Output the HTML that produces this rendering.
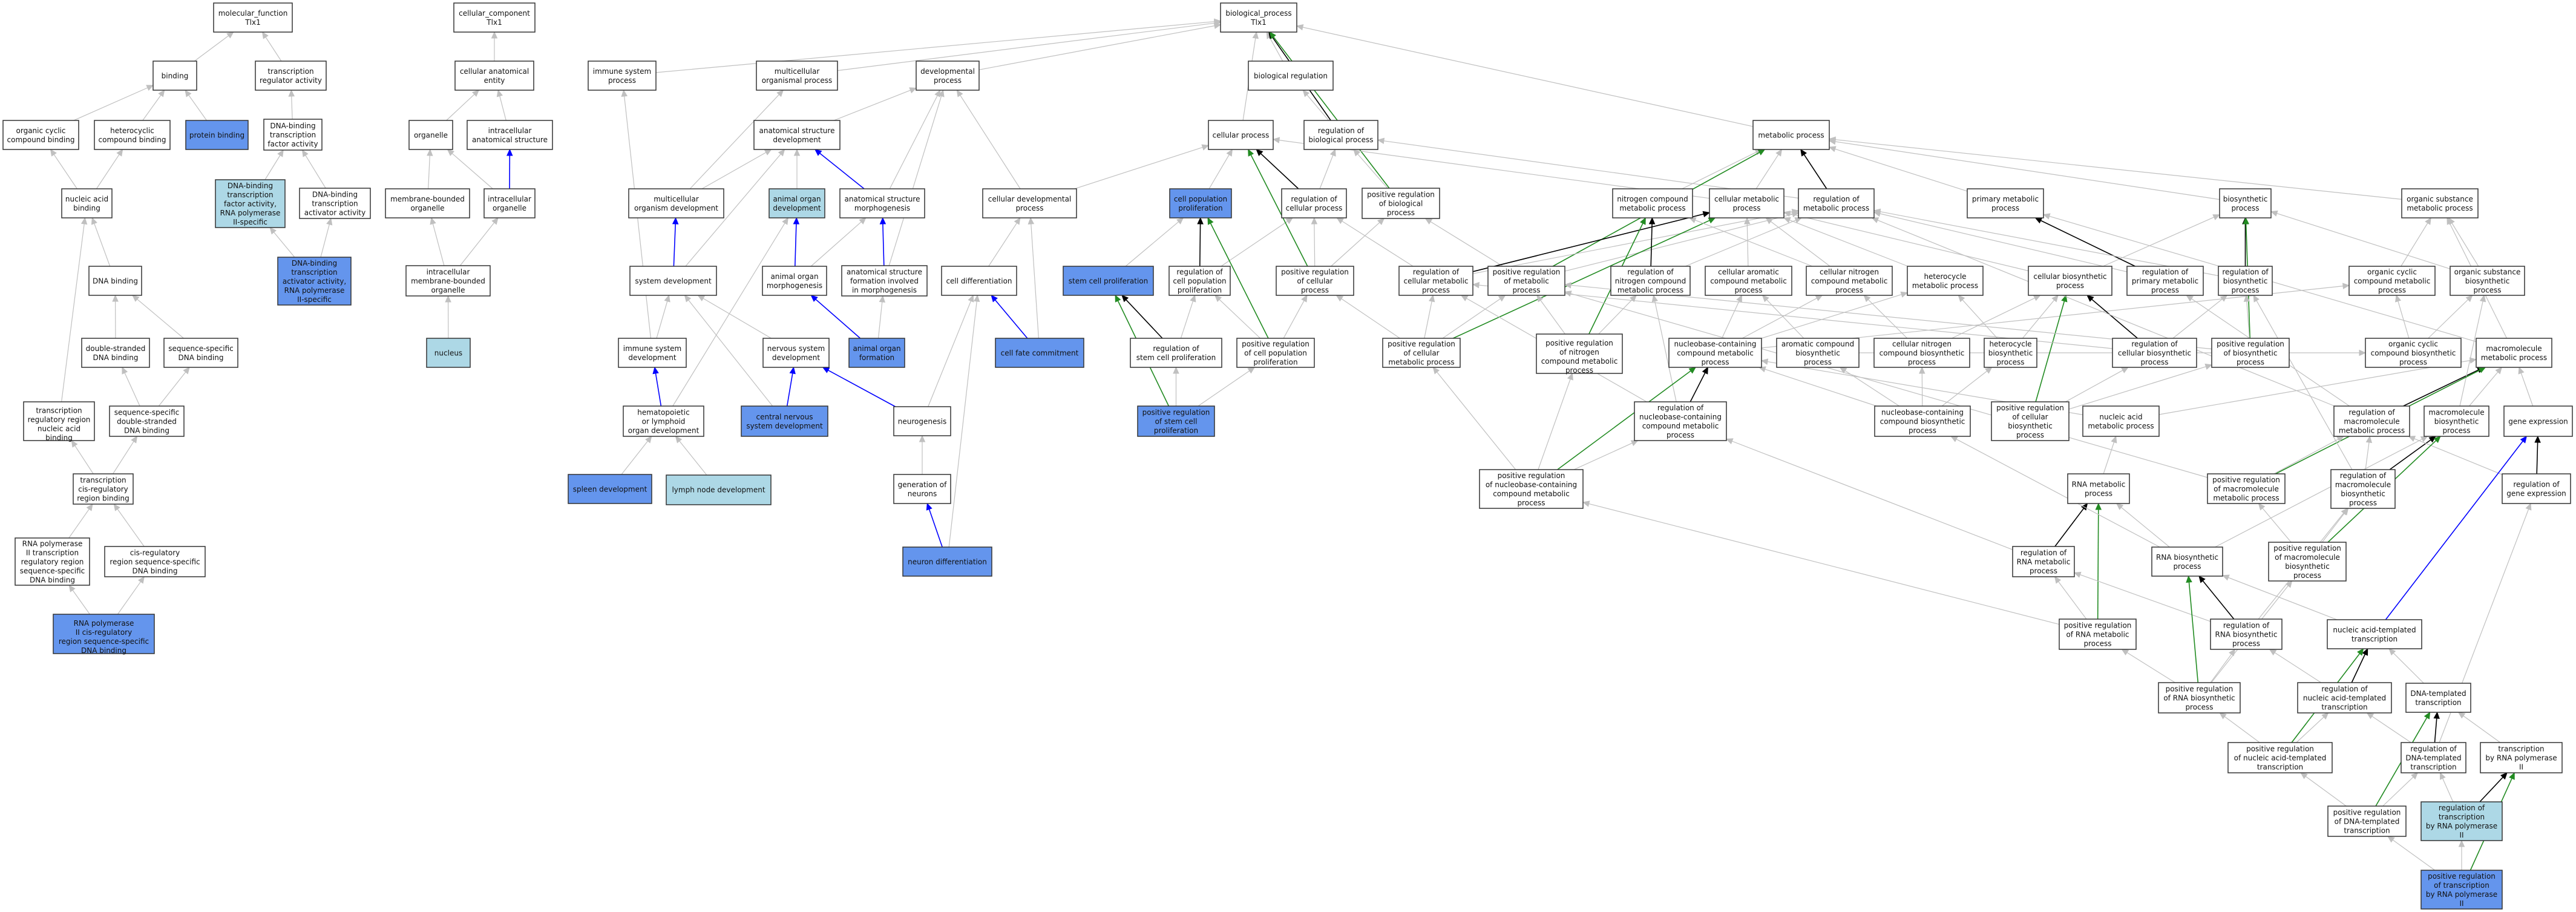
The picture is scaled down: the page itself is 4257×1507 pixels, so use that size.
<!DOCTYPE html>
<html><head><meta charset="utf-8">
<style>
html,body{margin:0;padding:0;background:#fff;}
svg{display:block;}
rect{stroke:#333;stroke-width:1.5;fill:#fff;}
rect.b{fill:#6495ED;}
rect.l{fill:#ADD8E6;}
text{font-family:"DejaVu Sans","Liberation Sans",sans-serif;font-size:12px;fill:#111;text-anchor:middle;}
</style></head>
<body>
<svg id="s" width="4257" height="1507" viewBox="0 0 4257 1507" xmlns="http://www.w3.org/2000/svg">
<g id="edges"></g>
<g id="nodes">
<rect id="mf" x="353" y="5" width="130" height="48"/><text x="418" y="26"><tspan x="418">molecular_function</tspan><tspan x="418" dy="15">Tlx1</tspan></text>
<rect id="cc" x="750" y="5" width="134" height="48"/><text x="817" y="26"><tspan x="817">cellular_component</tspan><tspan x="817" dy="15">Tlx1</tspan></text>
<rect id="bp" x="2017" y="5" width="126" height="48"/><text x="2080" y="26"><tspan x="2080">biological_process</tspan><tspan x="2080" dy="15">Tlx1</tspan></text>

<rect id="bind" x="253" y="101" width="72" height="48"/><text x="289" y="129.5">binding</text>
<rect id="tra" x="422" y="101" width="117" height="48"/><text x="480.5" y="122"><tspan x="480.5">transcription</tspan><tspan x="480.5" dy="15">regulator activity</tspan></text>
<rect id="cae" x="752" y="101" width="130" height="48"/><text x="817" y="122"><tspan x="817">cellular anatomical</tspan><tspan x="817" dy="15">entity</tspan></text>
<rect id="isp" x="972" y="101" width="112" height="48"/><text x="1028" y="122"><tspan x="1028">immune system</tspan><tspan x="1028" dy="15">process</tspan></text>
<rect id="mop" x="1250" y="101" width="134" height="48"/><text x="1317" y="122"><tspan x="1317">multicellular</tspan><tspan x="1317" dy="15">organismal process</tspan></text>
<rect id="dp" x="1514" y="101" width="104" height="48"/><text x="1566" y="122"><tspan x="1566">developmental</tspan><tspan x="1566" dy="15">process</tspan></text>
<rect id="br" x="2063" y="101" width="140" height="48"/><text x="2133" y="129.5">biological regulation</text>

<rect id="occb" x="5" y="199" width="125" height="48"/><text x="67.5" y="220"><tspan x="67.5">organic cyclic</tspan><tspan x="67.5" dy="15">compound binding</tspan></text>
<rect id="hcb" x="156" y="199" width="125" height="48"/><text x="218.5" y="220"><tspan x="218.5">heterocyclic</tspan><tspan x="218.5" dy="15">compound binding</tspan></text>
<rect id="pb" class="b" x="307" y="199" width="103" height="48"/><text x="358.5" y="227.5">protein binding</text>
<rect id="dtf" x="436" y="197" width="96" height="51"/><text x="484" y="212"><tspan x="484">DNA-binding</tspan><tspan x="484" dy="15">transcription</tspan><tspan x="484" dy="15">factor activity</tspan></text>
<rect id="org" x="676" y="199" width="72" height="48"/><text x="712" y="227.5">organelle</text>
<rect id="ias" x="772" y="199" width="141" height="48"/><text x="842.5" y="220"><tspan x="842.5">intracellular</tspan><tspan x="842.5" dy="15">anatomical structure</tspan></text>
<rect id="asd" x="1246" y="199" width="142" height="48"/><text x="1317" y="220"><tspan x="1317">anatomical structure</tspan><tspan x="1317" dy="15">development</tspan></text>
<rect id="cp" x="1997" y="199" width="107" height="48"/><text x="2050.5" y="227.5">cellular process</text>
<rect id="rbp" x="2155" y="199" width="122" height="48"/><text x="2216" y="220"><tspan x="2216">regulation of</tspan><tspan x="2216" dy="15">biological process</tspan></text>
<rect id="mp" x="2897" y="199" width="126" height="48"/><text x="2960" y="227.5">metabolic process</text>

<rect id="nab" x="102" y="312" width="83" height="48"/><text x="143.5" y="333"><tspan x="143.5">nucleic acid</tspan><tspan x="143.5" dy="15">binding</tspan></text>
<rect id="dtf2" class="l" x="356" y="297" width="115" height="79"/><text x="413.5" y="311"><tspan x="413.5">DNA-binding</tspan><tspan x="413.5" dy="15">transcription</tspan><tspan x="413.5" dy="15">factor activity,</tspan><tspan x="413.5" dy="15">RNA polymerase</tspan><tspan x="413.5" dy="15">II-specific</tspan></text>
<rect id="dta" x="495" y="311" width="117" height="50"/><text x="553.5" y="325.5"><tspan x="553.5">DNA-binding</tspan><tspan x="553.5" dy="15">transcription</tspan><tspan x="553.5" dy="15">activator activity</tspan></text>
<rect id="mbo" x="637" y="312" width="139" height="48"/><text x="706.5" y="333"><tspan x="706.5">membrane-bounded</tspan><tspan x="706.5" dy="15">organelle</tspan></text>
<rect id="io" x="800" y="312" width="84" height="48"/><text x="842" y="333"><tspan x="842">intracellular</tspan><tspan x="842" dy="15">organelle</tspan></text>
<rect id="mod" x="1039" y="312" width="157" height="48"/><text x="1117.5" y="333"><tspan x="1117.5">multicellular</tspan><tspan x="1117.5" dy="15">organism development</tspan></text>
<rect id="aod" class="l" x="1271" y="312" width="92" height="48"/><text x="1317" y="333"><tspan x="1317">animal organ</tspan><tspan x="1317" dy="15">development</tspan></text>
<rect id="asm" x="1388" y="312" width="140" height="48"/><text x="1458" y="333"><tspan x="1458">anatomical structure</tspan><tspan x="1458" dy="15">morphogenesis</tspan></text>
<rect id="cdp" x="1624" y="312" width="155" height="48"/><text x="1701.5" y="333"><tspan x="1701.5">cellular developmental</tspan><tspan x="1701.5" dy="15">process</tspan></text>
<rect id="cpp" class="b" x="1933" y="312" width="102" height="48"/><text x="1984" y="333"><tspan x="1984">cell population</tspan><tspan x="1984" dy="15">proliferation</tspan></text>
<rect id="rcp" x="2118" y="312" width="107" height="48"/><text x="2171.5" y="333"><tspan x="2171.5">regulation of</tspan><tspan x="2171.5" dy="15">cellular process</tspan></text>
<rect id="prbp" x="2251" y="311" width="128" height="50"/><text x="2315" y="325.5"><tspan x="2315">positive regulation</tspan><tspan x="2315" dy="15">of biological</tspan><tspan x="2315" dy="15">process</tspan></text>
<rect id="ncmp" x="2665" y="312" width="132" height="48"/><text x="2731" y="333"><tspan x="2731">nitrogen compound</tspan><tspan x="2731" dy="15">metabolic process</tspan></text>
<rect id="cmp" x="2825" y="312" width="123" height="48"/><text x="2886.5" y="333"><tspan x="2886.5">cellular metabolic</tspan><tspan x="2886.5" dy="15">process</tspan></text>
<rect id="rmp" x="2972" y="312" width="125" height="48"/><text x="3034.5" y="333"><tspan x="3034.5">regulation of</tspan><tspan x="3034.5" dy="15">metabolic process</tspan></text>
<rect id="pmp" x="3251" y="312" width="126" height="48"/><text x="3314" y="333"><tspan x="3314">primary metabolic</tspan><tspan x="3314" dy="15">process</tspan></text>
<rect id="bsp" x="3668" y="312" width="85" height="48"/><text x="3710.5" y="333"><tspan x="3710.5">biosynthetic</tspan><tspan x="3710.5" dy="15">process</tspan></text>
<rect id="osmp" x="3969" y="312" width="126" height="48"/><text x="4032" y="333"><tspan x="4032">organic substance</tspan><tspan x="4032" dy="15">metabolic process</tspan></text>

<rect id="dnab" x="147" y="440" width="87" height="48"/><text x="190.5" y="468.5">DNA binding</text>
<rect id="dta2" class="b" x="459" y="425" width="121" height="79"/><text x="519.5" y="439"><tspan x="519.5">DNA-binding</tspan><tspan x="519.5" dy="15">transcription</tspan><tspan x="519.5" dy="15">activator activity,</tspan><tspan x="519.5" dy="15">RNA polymerase</tspan><tspan x="519.5" dy="15">II-specific</tspan></text>
<rect id="imbo" x="671" y="439" width="139" height="50"/><text x="740.5" y="453.5"><tspan x="740.5">intracellular</tspan><tspan x="740.5" dy="15">membrane-bounded</tspan><tspan x="740.5" dy="15">organelle</tspan></text>
<rect id="sd" x="1041" y="440" width="143" height="48"/><text x="1112.5" y="468.5">system development</text>
<rect id="aom" x="1260" y="440" width="106" height="48"/><text x="1313" y="461"><tspan x="1313">animal organ</tspan><tspan x="1313" dy="15">morphogenesis</tspan></text>
<rect id="asfim" x="1391" y="439" width="141" height="50"/><text x="1461.5" y="453.5"><tspan x="1461.5">anatomical structure</tspan><tspan x="1461.5" dy="15">formation involved</tspan><tspan x="1461.5" dy="15">in morphogenesis</tspan></text>
<rect id="cd" x="1556" y="440" width="124" height="48"/><text x="1618" y="468.5">cell differentiation</text>
<rect id="scp" class="b" x="1757" y="440" width="149" height="48"/><text x="1831.5" y="468.5">stem cell proliferation</text>
<rect id="rcpp" x="1932" y="440" width="101" height="48"/><text x="1982.5" y="453.5"><tspan x="1982.5">regulation of</tspan><tspan x="1982.5" dy="15">cell population</tspan><tspan x="1982.5" dy="15">proliferation</tspan></text>
<rect id="prcp" x="2109" y="440" width="128" height="48"/><text x="2173" y="453.5"><tspan x="2173">positive regulation</tspan><tspan x="2173" dy="15">of cellular</tspan><tspan x="2173" dy="15">process</tspan></text>
<rect id="rcmp" x="2312" y="440" width="122" height="48"/><text x="2373" y="453.5"><tspan x="2373">regulation of</tspan><tspan x="2373" dy="15">cellular metabolic</tspan><tspan x="2373" dy="15">process</tspan></text>
<rect id="prmp" x="2459" y="440" width="127" height="48"/><text x="2522.5" y="453.5"><tspan x="2522.5">positive regulation</tspan><tspan x="2522.5" dy="15">of metabolic</tspan><tspan x="2522.5" dy="15">process</tspan></text>
<rect id="rncmp" x="2662" y="440" width="131" height="48"/><text x="2727.5" y="453.5"><tspan x="2727.5">regulation of</tspan><tspan x="2727.5" dy="15">nitrogen compound</tspan><tspan x="2727.5" dy="15">metabolic process</tspan></text>
<rect id="camp" x="2818" y="440" width="143" height="48"/><text x="2889.5" y="453.5"><tspan x="2889.5">cellular aromatic</tspan><tspan x="2889.5" dy="15">compound metabolic</tspan><tspan x="2889.5" dy="15">process</tspan></text>
<rect id="cncmp" x="2985" y="440" width="142" height="48"/><text x="3056" y="453.5"><tspan x="3056">cellular nitrogen</tspan><tspan x="3056" dy="15">compound metabolic</tspan><tspan x="3056" dy="15">process</tspan></text>
<rect id="hmp" x="3152" y="440" width="125" height="48"/><text x="3214.5" y="461"><tspan x="3214.5">heterocycle</tspan><tspan x="3214.5" dy="15">metabolic process</tspan></text>
<rect id="cbp" x="3352" y="440" width="138" height="48"/><text x="3421" y="461"><tspan x="3421">cellular biosynthetic</tspan><tspan x="3421" dy="15">process</tspan></text>
<rect id="rpmp" x="3515" y="440" width="126" height="48"/><text x="3578" y="453.5"><tspan x="3578">regulation of</tspan><tspan x="3578" dy="15">primary metabolic</tspan><tspan x="3578" dy="15">process</tspan></text>
<rect id="rbsp" x="3666" y="440" width="89" height="48"/><text x="3710.5" y="453.5"><tspan x="3710.5">regulation of</tspan><tspan x="3710.5" dy="15">biosynthetic</tspan><tspan x="3710.5" dy="15">process</tspan></text>
<rect id="occmp" x="3882" y="440" width="142" height="48"/><text x="3953" y="453.5"><tspan x="3953">organic cyclic</tspan><tspan x="3953" dy="15">compound metabolic</tspan><tspan x="3953" dy="15">process</tspan></text>
<rect id="osbp" x="4049" y="440" width="123" height="48"/><text x="4110.5" y="453.5"><tspan x="4110.5">organic substance</tspan><tspan x="4110.5" dy="15">biosynthetic</tspan><tspan x="4110.5" dy="15">process</tspan></text>

<rect id="dsdb" x="135" y="559" width="112" height="48"/><text x="191" y="580"><tspan x="191">double-stranded</tspan><tspan x="191" dy="15">DNA binding</tspan></text>
<rect id="ssdb" x="271" y="559" width="122" height="48"/><text x="332" y="580"><tspan x="332">sequence-specific</tspan><tspan x="332" dy="15">DNA binding</tspan></text>
<rect id="nuc" class="l" x="705" y="559" width="72" height="48"/><text x="741" y="587.5">nucleus</text>
<rect id="isd" x="1022" y="559" width="112" height="48"/><text x="1078" y="580"><tspan x="1078">immune system</tspan><tspan x="1078" dy="15">development</tspan></text>
<rect id="nsd" x="1261" y="559" width="109" height="48"/><text x="1315.5" y="580"><tspan x="1315.5">nervous system</tspan><tspan x="1315.5" dy="15">development</tspan></text>
<rect id="aof" class="b" x="1403" y="559" width="92" height="48"/><text x="1449" y="580"><tspan x="1449">animal organ</tspan><tspan x="1449" dy="15">formation</tspan></text>
<rect id="cfc" class="b" x="1645" y="559" width="146" height="48"/><text x="1718" y="587.5">cell fate commitment</text>
<rect id="rscp" x="1868" y="559" width="151" height="48"/><text x="1943.5" y="580"><tspan x="1943.5">regulation of</tspan><tspan x="1943.5" dy="15">stem cell proliferation</tspan></text>
<rect id="prcpp" x="2044" y="559" width="128" height="48"/><text x="2108" y="572.5"><tspan x="2108">positive regulation</tspan><tspan x="2108" dy="15">of cell population</tspan><tspan x="2108" dy="15">proliferation</tspan></text>
<rect id="prcmp" x="2285" y="559" width="128" height="48"/><text x="2349" y="572.5"><tspan x="2349">positive regulation</tspan><tspan x="2349" dy="15">of cellular</tspan><tspan x="2349" dy="15">metabolic process</tspan></text>
<rect id="prncmp" x="2539" y="552" width="142" height="65"/><text x="2610" y="571"><tspan x="2610">positive regulation</tspan><tspan x="2610" dy="15">of nitrogen</tspan><tspan x="2610" dy="15">compound metabolic</tspan><tspan x="2610" dy="15">process</tspan></text>
<rect id="nbcmp" x="2758" y="559" width="153" height="48"/><text x="2834.5" y="572.5"><tspan x="2834.5">nucleobase-containing</tspan><tspan x="2834.5" dy="15">compound metabolic</tspan><tspan x="2834.5" dy="15">process</tspan></text>
<rect id="acbp" x="2936" y="559" width="136" height="48"/><text x="3004" y="572.5"><tspan x="3004">aromatic compound</tspan><tspan x="3004" dy="15">biosynthetic</tspan><tspan x="3004" dy="15">process</tspan></text>
<rect id="cncbp" x="3097" y="559" width="158" height="48"/><text x="3176" y="572.5"><tspan x="3176">cellular nitrogen</tspan><tspan x="3176" dy="15">compound biosynthetic</tspan><tspan x="3176" dy="15">process</tspan></text>
<rect id="hbp" x="3279" y="559" width="87" height="48"/><text x="3322.5" y="572.5"><tspan x="3322.5">heterocycle</tspan><tspan x="3322.5" dy="15">biosynthetic</tspan><tspan x="3322.5" dy="15">process</tspan></text>
<rect id="rcbp" x="3491" y="559" width="139" height="48"/><text x="3560.5" y="572.5"><tspan x="3560.5">regulation of</tspan><tspan x="3560.5" dy="15">cellular biosynthetic</tspan><tspan x="3560.5" dy="15">process</tspan></text>
<rect id="prbsp" x="3655" y="559" width="128" height="48"/><text x="3719" y="572.5"><tspan x="3719">positive regulation</tspan><tspan x="3719" dy="15">of biosynthetic</tspan><tspan x="3719" dy="15">process</tspan></text>
<rect id="occbp" x="3909" y="559" width="158" height="48"/><text x="3988" y="572.5"><tspan x="3988">organic cyclic</tspan><tspan x="3988" dy="15">compound biosynthetic</tspan><tspan x="3988" dy="15">process</tspan></text>
<rect id="mmp" x="4092" y="559" width="125" height="48"/><text x="4154.5" y="580"><tspan x="4154.5">macromolecule</tspan><tspan x="4154.5" dy="15">metabolic process</tspan></text>

<rect id="trrnab" x="39" y="664" width="117" height="64"/><text x="97.5" y="682.5"><tspan x="97.5">transcription</tspan><tspan x="97.5" dy="15">regulatory region</tspan><tspan x="97.5" dy="15">nucleic acid</tspan><tspan x="97.5" dy="15">binding</tspan></text>
<rect id="ssdsdb" x="181" y="671" width="123" height="50"/><text x="242.5" y="685.5"><tspan x="242.5">sequence-specific</tspan><tspan x="242.5" dy="15">double-stranded</tspan><tspan x="242.5" dy="15">DNA binding</tspan></text>
<rect id="hlod" x="1030" y="671" width="133" height="50"/><text x="1096.5" y="685.5"><tspan x="1096.5">hematopoietic</tspan><tspan x="1096.5" dy="15">or lymphoid</tspan><tspan x="1096.5" dy="15">organ development</tspan></text>
<rect id="cnsd" class="b" x="1225" y="671" width="143" height="50"/><text x="1296.5" y="693"><tspan x="1296.5">central nervous</tspan><tspan x="1296.5" dy="15">system development</tspan></text>
<rect id="ng" x="1477" y="672" width="94" height="48"/><text x="1524" y="700.5">neurogenesis</text>
<rect id="prscp" class="b" x="1880" y="671" width="127" height="50"/><text x="1943.5" y="685.5"><tspan x="1943.5">positive regulation</tspan><tspan x="1943.5" dy="15">of stem cell</tspan><tspan x="1943.5" dy="15">proliferation</tspan></text>
<rect id="rnbcmp" x="2701" y="664" width="152" height="64"/><text x="2777" y="678"><tspan x="2777">regulation of</tspan><tspan x="2777" dy="15">nucleobase-containing</tspan><tspan x="2777" dy="15">compound metabolic</tspan><tspan x="2777" dy="15">process</tspan></text>
<rect id="nbcbp" x="3098" y="671" width="158" height="50"/><text x="3177" y="685.5"><tspan x="3177">nucleobase-containing</tspan><tspan x="3177" dy="15">compound biosynthetic</tspan><tspan x="3177" dy="15">process</tspan></text>
<rect id="prcbp" x="3291" y="664" width="128" height="64"/><text x="3355" y="678"><tspan x="3355">positive regulation</tspan><tspan x="3355" dy="15">of cellular</tspan><tspan x="3355" dy="15">biosynthetic</tspan><tspan x="3355" dy="15">process</tspan></text>
<rect id="namp" x="3442" y="671" width="126" height="50"/><text x="3505" y="693"><tspan x="3505">nucleic acid</tspan><tspan x="3505" dy="15">metabolic process</tspan></text>
<rect id="rmmp" x="3857" y="671" width="125" height="50"/><text x="3919.5" y="685.5"><tspan x="3919.5">regulation of</tspan><tspan x="3919.5" dy="15">macromolecule</tspan><tspan x="3919.5" dy="15">metabolic process</tspan></text>
<rect id="mbp" x="4006" y="671" width="107" height="50"/><text x="4059.5" y="685.5"><tspan x="4059.5">macromolecule</tspan><tspan x="4059.5" dy="15">biosynthetic</tspan><tspan x="4059.5" dy="15">process</tspan></text>
<rect id="ge" x="4138" y="671" width="113" height="50"/><text x="4194.5" y="700.5">gene expression</text>

<rect id="tcrb" x="121" y="783" width="99" height="50"/><text x="170.5" y="797.5"><tspan x="170.5">transcription</tspan><tspan x="170.5" dy="15">cis-regulatory</tspan><tspan x="170.5" dy="15">region binding</tspan></text>
<rect id="spl" class="b" x="939" y="784" width="138" height="48"/><text x="1008" y="812.5">spleen development</text>
<rect id="lnd" class="l" x="1101" y="785" width="173" height="49"/><text x="1187.5" y="813.5">lymph node development</text>
<rect id="gon" x="1477" y="784" width="94" height="48"/><text x="1524" y="805"><tspan x="1524">generation of</tspan><tspan x="1524" dy="15">neurons</tspan></text>
<rect id="prnbcmp" x="2445" y="776" width="171" height="64"/><text x="2530.5" y="790"><tspan x="2530.5">positive regulation</tspan><tspan x="2530.5" dy="15">of nucleobase-containing</tspan><tspan x="2530.5" dy="15">compound metabolic</tspan><tspan x="2530.5" dy="15">process</tspan></text>
<rect id="rnamp" x="3417" y="783" width="102" height="49"/><text x="3468" y="804.5"><tspan x="3468">RNA metabolic</tspan><tspan x="3468" dy="15">process</tspan></text>
<rect id="prmmp" x="3648" y="783" width="128" height="49"/><text x="3712" y="797"><tspan x="3712">positive regulation</tspan><tspan x="3712" dy="15">of macromolecule</tspan><tspan x="3712" dy="15">metabolic process</tspan></text>
<rect id="rmbp" x="3852" y="776" width="106" height="64"/><text x="3905" y="790"><tspan x="3905">regulation of</tspan><tspan x="3905" dy="15">macromolecule</tspan><tspan x="3905" dy="15">biosynthetic</tspan><tspan x="3905" dy="15">process</tspan></text>
<rect id="rge" x="4135" y="783" width="113" height="49"/><text x="4191.5" y="804.5"><tspan x="4191.5">regulation of</tspan><tspan x="4191.5" dy="15">gene expression</tspan></text>

<rect id="rpiitrr" class="" x="25" y="889" width="123" height="78"/><text x="86.5" y="902.5"><tspan x="86.5">RNA polymerase</tspan><tspan x="86.5" dy="15">II transcription</tspan><tspan x="86.5" dy="15">regulatory region</tspan><tspan x="86.5" dy="15">sequence-specific</tspan><tspan x="86.5" dy="15">DNA binding</tspan></text>
<rect id="crssdb" x="173" y="903" width="166" height="50"/><text x="256" y="917.5"><tspan x="256">cis-regulatory</tspan><tspan x="256" dy="15">region sequence-specific</tspan><tspan x="256" dy="15">DNA binding</tspan></text>
<rect id="nd" class="b" x="1492" y="904" width="147" height="48"/><text x="1565.5" y="932.5">neuron differentiation</text>
<rect id="rrnamp" x="3326" y="903" width="102" height="50"/><text x="3377" y="917.5"><tspan x="3377">regulation of</tspan><tspan x="3377" dy="15">RNA metabolic</tspan><tspan x="3377" dy="15">process</tspan></text>
<rect id="rnabp" x="3556" y="904" width="117" height="48"/><text x="3614.5" y="925"><tspan x="3614.5">RNA biosynthetic</tspan><tspan x="3614.5" dy="15">process</tspan></text>
<rect id="prmbp" x="3749" y="896" width="128" height="64"/><text x="3813" y="910"><tspan x="3813">positive regulation</tspan><tspan x="3813" dy="15">of macromolecule</tspan><tspan x="3813" dy="15">biosynthetic</tspan><tspan x="3813" dy="15">process</tspan></text>

<rect id="rpiicis" class="b" x="88" y="1015" width="167" height="65"/><text x="171.5" y="1034"><tspan x="171.5">RNA polymerase</tspan><tspan x="171.5" dy="15">II cis-regulatory</tspan><tspan x="171.5" dy="15">region sequence-specific</tspan><tspan x="171.5" dy="15">DNA binding</tspan></text>
<rect id="prrnamp" x="3403" y="1023" width="127" height="50"/><text x="3466.5" y="1037.5"><tspan x="3466.5">positive regulation</tspan><tspan x="3466.5" dy="15">of RNA metabolic</tspan><tspan x="3466.5" dy="15">process</tspan></text>
<rect id="rrnabp" x="3653" y="1023" width="118" height="50"/><text x="3712" y="1037.5"><tspan x="3712">regulation of</tspan><tspan x="3712" dy="15">RNA biosynthetic</tspan><tspan x="3712" dy="15">process</tspan></text>
<rect id="natt" x="3846" y="1024" width="156" height="48"/><text x="3924" y="1045"><tspan x="3924">nucleic acid-templated</tspan><tspan x="3924" dy="15">transcription</tspan></text>

<rect id="prrnabp" x="3567" y="1128" width="135" height="50"/><text x="3634.5" y="1142.5"><tspan x="3634.5">positive regulation</tspan><tspan x="3634.5" dy="15">of RNA biosynthetic</tspan><tspan x="3634.5" dy="15">process</tspan></text>
<rect id="rnatt" x="3797" y="1128" width="155" height="50"/><text x="3874.5" y="1142.5"><tspan x="3874.5">regulation of</tspan><tspan x="3874.5" dy="15">nucleic acid-templated</tspan><tspan x="3874.5" dy="15">transcription</tspan></text>
<rect id="dtt" x="3976" y="1129" width="107" height="48"/><text x="4029.5" y="1150"><tspan x="4029.5">DNA-templated</tspan><tspan x="4029.5" dy="15">transcription</tspan></text>

<rect id="prnatt" x="3682" y="1227" width="172" height="50"/><text x="3768" y="1241.5"><tspan x="3768">positive regulation</tspan><tspan x="3768" dy="15">of nucleic acid-templated</tspan><tspan x="3768" dy="15">transcription</tspan></text>
<rect id="rdtt" x="3968" y="1227" width="107" height="50"/><text x="4021.5" y="1241.5"><tspan x="4021.5">regulation of</tspan><tspan x="4021.5" dy="15">DNA-templated</tspan><tspan x="4021.5" dy="15">transcription</tspan></text>
<rect id="trp2" x="4099" y="1227" width="135" height="50"/><text x="4166.5" y="1241.5"><tspan x="4166.5">transcription</tspan><tspan x="4166.5" dy="15">by RNA polymerase</tspan><tspan x="4166.5" dy="15">II</tspan></text>

<rect id="prdtt" x="3847" y="1332" width="129" height="50"/><text x="3911.5" y="1346.5"><tspan x="3911.5">positive regulation</tspan><tspan x="3911.5" dy="15">of DNA-templated</tspan><tspan x="3911.5" dy="15">transcription</tspan></text>
<rect id="rtrp2" class="l" x="4001" y="1325" width="134" height="64"/><text x="4068" y="1339"><tspan x="4068">regulation of</tspan><tspan x="4068" dy="15">transcription</tspan><tspan x="4068" dy="15">by RNA polymerase</tspan><tspan x="4068" dy="15">II</tspan></text>
<rect id="prtrp2" class="b" x="4001" y="1438" width="134" height="64"/><text x="4068" y="1452"><tspan x="4068">positive regulation</tspan><tspan x="4068" dy="15">of transcription</tspan><tspan x="4068" dy="15">by RNA polymerase</tspan><tspan x="4068" dy="15">II</tspan></text>
</g>
</svg>
<script>
(function(){
var G='#c0c0c0',K='#000',B='#0000ff',N='#228b22';
var E=[
['bind','mf'],['tra','mf'],['occb','bind'],['hcb','bind'],['pb','bind'],['dtf','tra'],['nab','occb'],['nab','hcb'],
['dtf2','dtf'],['dta','dtf'],['dta2','dtf2'],['dta2','dta'],['dnab','nab'],['trrnab','nab'],['dsdb','dnab'],['ssdb','dnab'],
['ssdsdb','dsdb'],['ssdsdb','ssdb'],['tcrb','trrnab'],['tcrb','ssdsdb'],['rpiitrr','tcrb'],['crssdb','tcrb'],['rpiicis','rpiitrr'],['rpiicis','crssdb'],
['cae','cc'],['org','cae'],['ias','cae'],['mbo','org'],['io','org'],['io','ias',B],['imbo','mbo'],['imbo','io'],['nuc','imbo'],
['isp','bp'],['mop','bp'],['dp','bp'],['br','bp'],['cp','bp'],['rbp','br'],['rbp','bp',K],['prbp','bp',N],['mp','bp'],['prbp','rbp'],
['asd','dp'],['mod','mop'],['mod','asd'],['aod','asd'],['asm','asd',B],['asm','dp'],['cdp','dp'],['cdp','cp'],['sd','mod',B],['sd','asd'],
['aom','aod',B],['aom','asm'],['asfim','asm',B],['asfim','dp'],['cd','cdp'],['cpp','cp'],['scp','cpp'],['rcpp','cpp',K],['rcpp','rcp'],
['isd','sd'],['isd','isp'],['nsd','sd'],['aof','aom',B],['aof','asfim'],['cfc','cd',B],['cfc','cdp'],['rscp','scp',K],['rscp','rcpp'],
['prcpp','cpp',N],['prcpp','rcpp'],['prcpp','prcp'],['hlod','isd',B],['hlod','aod'],['cnsd','nsd',B],['cnsd','sd'],['ng','nsd',B],['ng','cd'],
['gon','ng'],['nd','gon',B],['nd','cd'],['prscp','scp',N],['prscp','rscp'],['prscp','prcpp'],['spl','hlod'],['lnd','hlod'],
['rcp','cp',K],['rcp','rbp'],['prcp','cp',N],['prcp','rcp'],['prcp','prbp'],
['cmp','mp'],['cmp','cp'],['rmp','mp',K],['rmp','rbp'],['ncmp','mp'],['pmp','mp'],['osmp','mp'],['bsp','mp'],['prmp','mp',N],['prmp','rmp'],['prmp','prbp'],
['rcmp','cmp',K],['rcmp','rcp'],['rcmp','rmp'],['prcmp','cmp',N],['prcmp','rcmp'],['prcmp','prmp'],['prcmp','prcp'],
['rncmp','ncmp',K],['rncmp','rmp'],['prncmp','ncmp',N],['prncmp','rncmp'],['prncmp','prmp'],
['camp','cmp'],['cncmp','cmp'],['cncmp','ncmp'],['hmp','cmp'],['cbp','cmp'],['cbp','bsp'],
['nbcmp','camp'],['nbcmp','cncmp'],['nbcmp','hmp'],['nbcmp','occmp'],['acbp','camp'],['acbp','occbp'],['cncbp','cncmp'],['cncbp','cbp'],['hbp','hmp'],['hbp','cbp'],
['rnbcmp','nbcmp',K],['rnbcmp','rcmp'],['rnbcmp','rncmp'],['prnbcmp','nbcmp',N],['prnbcmp','rnbcmp'],['prnbcmp','prcmp'],['prnbcmp','prncmp'],
['nbcbp','nbcmp'],['nbcbp','acbp'],['nbcbp','cncbp'],['nbcbp','hbp'],
['prcbp','cbp',N],['prcbp','rcbp'],['prcbp','prbsp'],['rpmp','pmp',K],['rpmp','rmp'],['rbsp','bsp',K],['rbsp','rmp'],
['prbsp','bsp',N],['prbsp','rbsp'],['prbsp','prmp'],['rcbp','cbp',K],['rcbp','rbsp'],['rcbp','rcmp'],
['occmp','osmp'],['osbp','osmp'],['osbp','bsp'],['occbp','occmp'],['occbp','osbp'],['mmp','osmp'],['mmp','pmp'],
['namp','nbcmp'],['namp','mmp'],['rmmp','mmp',K],['rmmp','rpmp'],['rmmp','rmp'],['mbp','mmp'],['mbp','osbp'],['ge','mmp'],
['rnamp','namp'],['rrnamp','rnamp',K],['rrnamp','rnbcmp'],['prrnamp','rnamp',N],['prrnamp','rrnamp'],['prrnamp','prnbcmp'],
['prmmp','mmp',N],['prmmp','rmmp'],['prmmp','prmp'],['rmbp','mbp',K],['rmbp','rmmp'],['rmbp','rbsp'],['rge','ge',K],['rge','rmmp'],
['rnabp','rnamp'],['rnabp','mbp'],['rnabp','nbcbp'],['prmbp','mbp',N],['prmbp','rmbp'],['prmbp','prmmp'],
['rrnabp','rnabp',K],['rrnabp','rrnamp'],['rrnabp','rmbp'],['natt','rnabp'],['natt','ge',B],
['prrnabp','rnabp',N],['prrnabp','rrnabp'],['prrnabp','prrnamp'],['prrnabp','prmbp'],
['rnatt','natt',K],['rnatt','rrnabp'],['dtt','natt'],['prnatt','natt',N],['prnatt','prrnabp'],['prnatt','rnatt'],
['rdtt','dtt',K],['rdtt','rnatt'],['rdtt','rge'],['trp2','dtt'],['prdtt','dtt',N],['prdtt','rdtt'],['prdtt','prnatt'],
['rtrp2','trp2',K],['rtrp2','rdtt'],['prtrp2','trp2',N],['prtrp2','rtrp2'],['prtrp2','prdtt']
];
function R(id){var r=document.getElementById(id);var x=+r.getAttribute('x'),y=+r.getAttribute('y'),w=+r.getAttribute('width'),h=+r.getAttribute('height');return {x:x,y:y,w:w,h:h,cx:x+w/2,cy:y+h/2};}
function clip(r,dx,dy){var tx=dx!==0?(r.w/2)/Math.abs(dx):1e9,ty=dy!==0?(r.h/2)/Math.abs(dy):1e9;var t=Math.min(tx,ty);return [r.cx+dx*t,r.cy+dy*t];}
var g=document.getElementById('edges'),ns='http://www.w3.org/2000/svg',s='';
E.forEach(function(e){
 var a=R(e[0]),b=R(e[1]),col=e[2]||G;
 var dx=b.cx-a.cx,dy=b.cy-a.cy;
 var p=clip(a,dx,dy),q=clip(b,-dx,-dy);
 var L=Math.hypot(q[0]-p[0],q[1]-p[1])||1,ux=(q[0]-p[0])/L,uy=(q[1]-p[1])/L;
 var hl=10,hw=4.5,bx=q[0]-ux*hl,by=q[1]-uy*hl;
 var sw=col===G?1.2:1.6;
 s+='<line x1="'+p[0].toFixed(1)+'" y1="'+p[1].toFixed(1)+'" x2="'+bx.toFixed(1)+'" y2="'+by.toFixed(1)+'" stroke="'+col+'" stroke-width="'+sw+'"/>';
 s+='<polygon points="'+q[0].toFixed(1)+','+q[1].toFixed(1)+' '+(bx-uy*hw).toFixed(1)+','+(by+ux*hw).toFixed(1)+' '+(bx+uy*hw).toFixed(1)+','+(by-ux*hw).toFixed(1)+'" fill="'+col+'" stroke="'+col+'"/>';
});
g.innerHTML=s;
})();
</script>
</body></html>
